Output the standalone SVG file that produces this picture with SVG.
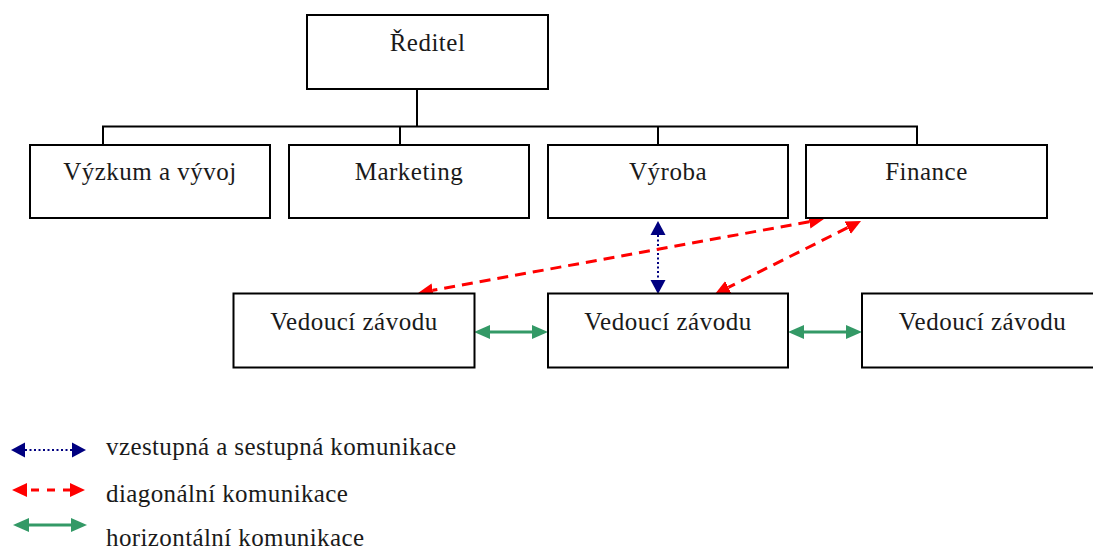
<svg xmlns="http://www.w3.org/2000/svg" width="1093" height="550" viewBox="0 0 1093 550">
<style>
.box{fill:#fff;stroke:#000;stroke-width:2}
.lbl{font-family:"Liberation Serif","Times New Roman",serif;font-size:25px;letter-spacing:0.5px;fill:#1a1a1a;text-anchor:middle}
.leg{font-family:"Liberation Serif","Times New Roman",serif;font-size:25px;letter-spacing:0.4px;fill:#1a1a1a}
.tree{fill:none;stroke:#000;stroke-width:2}
.blue{stroke:#000080;stroke-width:2;stroke-dasharray:2,2.5;fill:none}
.red{stroke:#ff0000;stroke-width:3;stroke-dasharray:11,7;fill:none}
.green{stroke:#339966;stroke-width:3;fill:none}
</style>
<defs>
<marker id="hb" viewBox="0 -8 16 16" markerWidth="16" markerHeight="16" refX="0" refY="0" markerUnits="userSpaceOnUse" orient="auto-start-reverse"><path d="M0,-7.5 L14,0 L0,7.5 z" fill="#000080"/></marker>
<marker id="hr" viewBox="0 -8 16 16" markerWidth="16" markerHeight="16" refX="0" refY="0" markerUnits="userSpaceOnUse" orient="auto-start-reverse"><path d="M0,-7 L15,0 L0,7 z" fill="#ff0000"/></marker>
<marker id="hg" viewBox="0 -8 17 16" markerWidth="17" markerHeight="16" refX="0" refY="0" markerUnits="userSpaceOnUse" orient="auto-start-reverse"><path d="M0,-7 L16,0 L0,7 z" fill="#339966"/></marker>
</defs>
<rect width="1093" height="550" fill="#fff"/>
<g id="connectors">
<path class="tree" d="M417,89 V126.5 M103,145 V126.5 H917 V145 M400,126.5 V145 M658,126.5 V145"/>
<line class="blue" x1="658" y1="235" x2="658" y2="280" marker-start="url(#hb)" marker-end="url(#hb)"/>
<line class="red" x1="809.2" y1="221.7" x2="432.8" y2="290.3" marker-start="url(#hr)" marker-end="url(#hr)"/>
<line class="red" x1="847.6" y1="227.7" x2="728.4" y2="287.3" marker-start="url(#hr)" marker-end="url(#hr)"/>
<line class="green" x1="490" y1="332" x2="532" y2="332" marker-start="url(#hg)" marker-end="url(#hg)"/>
<line class="green" x1="804" y1="332" x2="846" y2="332" marker-start="url(#hg)" marker-end="url(#hg)"/>
</g>
<g id="reditel"><rect class="box" x="307" y="15" width="241" height="74"/><text class="lbl" x="427.5" y="51">Ředitel</text></g>
<g id="vyzkum"><rect class="box" x="30" y="145" width="240" height="73"/><text class="lbl" x="150" y="180">Výzkum a vývoj</text></g>
<g id="marketing"><rect class="box" x="289" y="145" width="240" height="73"/><text class="lbl" x="409" y="180">Marketing</text></g>
<g id="vyroba"><rect class="box" x="548" y="145" width="240" height="73"/><text class="lbl" x="668" y="180">Výroba</text></g>
<g id="finance"><rect class="box" x="806" y="145" width="241" height="73"/><text class="lbl" x="926.5" y="180">Finance</text></g>
<g id="vedouci1"><rect class="box" x="233.5" y="293.5" width="241" height="74"/><text class="lbl" x="354" y="330">Vedoucí závodu</text></g>
<g id="vedouci2"><rect class="box" x="548" y="293.5" width="240" height="74"/><text class="lbl" x="668" y="330">Vedoucí závodu</text></g>
<g id="vedouci3"><rect class="box" x="862" y="293.5" width="241" height="74"/><text class="lbl" x="982.5" y="330">Vedoucí závodu</text></g>
<g id="legend">
<line class="blue" x1="25" y1="450" x2="72" y2="450" marker-start="url(#hb)" marker-end="url(#hb)"/>
<line class="red" x1="27" y1="490" x2="70" y2="490" style="stroke-dasharray:8,8;stroke-dashoffset:-4" marker-start="url(#hr)" marker-end="url(#hr)"/>
<line class="green" x1="29" y1="525" x2="71" y2="525" marker-start="url(#hg)" marker-end="url(#hg)"/>
<text class="leg" x="106" y="455">vzestupná a sestupná komunikace</text>
<text class="leg" x="106" y="502">diagonální komunikace</text>
<text class="leg" x="106" y="546">horizontální komunikace</text>
</g>
</svg>
